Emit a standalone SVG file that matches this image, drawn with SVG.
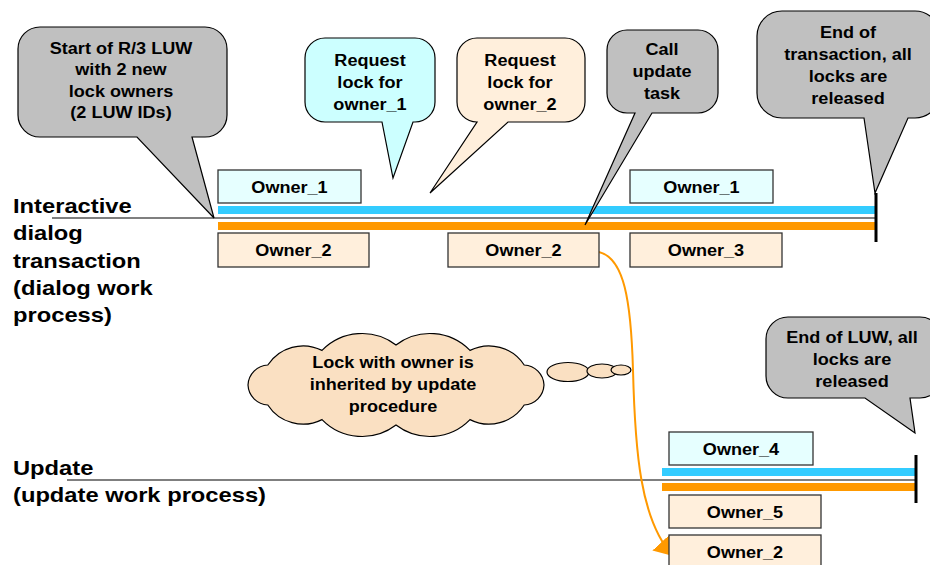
<svg xmlns="http://www.w3.org/2000/svg" width="930" height="565" viewBox="0 0 930 565">
<defs>
<style>
text{font-family:"Liberation Sans",Arial,sans-serif;font-weight:bold;fill:#000}
.c{font-size:16px;text-anchor:middle}
.lbl{font-size:21px;text-anchor:start}
.gray{fill:#c0c0c0;stroke:#000;stroke-width:1.2}
.cyanc{fill:#ccffff;stroke:#000;stroke-width:1.2}
.peachc{fill:#ffefdc;stroke:#000;stroke-width:1.2}
.o1{fill:#e6ffff;stroke:#333;stroke-width:1.3}
.o2{fill:#ffefdc;stroke:#333;stroke-width:1.3}
.cloud{fill:#fae0c2;stroke:#000;stroke-width:1.2}
.tl{stroke:#000;stroke-width:1.2;fill:none}
.end{stroke:#000;stroke-width:3;fill:none}
</style>
<marker id="arr" markerUnits="userSpaceOnUse" markerWidth="20" markerHeight="24" refX="18" refY="11.5" orient="auto">
<path d="M0,0 L18,11.5 L0,23 Z" fill="#ff9900"/>
</marker>
</defs>
<rect width="930" height="565" fill="#fff"/>

<g id="labels">
<text class="lbl" transform="matrix(1.13 0 0 1 13 213)"><tspan x="0" y="0">Interactive</tspan><tspan x="0" y="27">dialog</tspan><tspan x="0" y="55">transaction</tspan><tspan x="0" y="82">(dialog work</tspan><tspan x="0" y="109">process)</tspan></text>
<text class="lbl" transform="matrix(1.13 0 0 1 13 475)"><tspan x="0" y="0">Update</tspan><tspan x="0" y="27">(update work process)</tspan></text>
</g>

<g id="timelines">
<line class="tl" x1="52" y1="218" x2="876" y2="218"/>
<rect x="218" y="206" width="658" height="8" fill="#33ccff"/>
<rect x="218" y="222" width="658" height="8" fill="#ff9900"/>
<line class="end" x1="876" y1="193" x2="876" y2="242"/>
<line class="tl" x1="67" y1="480" x2="916" y2="480"/>
<rect x="662" y="468" width="254" height="8" fill="#33ccff"/>
<rect x="662" y="483" width="254" height="8" fill="#ff9900"/>
<line class="end" x1="916" y1="455" x2="916" y2="503"/>
</g>

<g id="connectors">
<path d="M599,252 C624,258 631,300 633,370 C635,450 640,520 673,556" fill="none" stroke="#ff9900" stroke-width="2" marker-end="url(#arr)"/>
</g>

<g id="callout-start">
<path class="gray" d="M40,27 H205 A22,22 0 0 1 227,49 V115 A22,22 0 0 1 205,137 H192 L214,218 L137,137 H40 A22,22 0 0 1 18,115 V49 A22,22 0 0 1 40,27 Z"/>
<text class="c" transform="matrix(1.13 0 0 1 121 54)"><tspan x="0" y="0">Start of R/3 LUW</tspan><tspan x="0" y="21.3">with 2 new</tspan><tspan x="0" y="42.6">lock owners</tspan><tspan x="0" y="64">(2 LUW IDs)</tspan></text>
</g>

<g id="callout-req1">
<path class="cyanc" d="M325,38 H415 A20,20 0 0 1 435,58 V102 A20,20 0 0 1 415,122 H413 L393,178 L382,122 H325 A20,20 0 0 1 305,102 V58 A20,20 0 0 1 325,38 Z"/>
<text class="c" transform="matrix(1.13 0 0 1 370 66)"><tspan x="0" y="0">Request</tspan><tspan x="0" y="22">lock for</tspan><tspan x="0" y="44">owner_1</tspan></text>
</g>

<g id="callout-req2">
<path class="peachc" d="M477,38 H565 A20,20 0 0 1 585,58 V102 A20,20 0 0 1 565,122 H508 L430,193 L477,122 A20,20 0 0 1 457,102 V58 A20,20 0 0 1 477,38 Z"/>
<text class="c" transform="matrix(1.13 0 0 1 520 66)"><tspan x="0" y="0">Request</tspan><tspan x="0" y="22">lock for</tspan><tspan x="0" y="44">owner_2</tspan></text>
</g>

<g id="callout-update">
<path class="gray" d="M627,30 H698 A20,20 0 0 1 718,50 V93 A20,20 0 0 1 698,113 H652 L585,225 L635,113 H627 A20,20 0 0 1 607,93 V50 A20,20 0 0 1 627,30 Z"/>
<text class="c" transform="matrix(1.13 0 0 1 662 55)"><tspan x="0" y="0">Call</tspan><tspan x="0" y="22">update</tspan><tspan x="0" y="44">task</tspan></text>
</g>

<g id="callout-endtx">
<path class="gray" d="M782,11 H915 A25,25 0 0 1 940,36 V93 A25,25 0 0 1 915,118 H908 L875,193 L864,118 H782 A25,25 0 0 1 757,93 V36 A25,25 0 0 1 782,11 Z"/>
<text class="c" transform="matrix(1.13 0 0 1 848 38)"><tspan x="0" y="0">End of</tspan><tspan x="0" y="22">transaction, all</tspan><tspan x="0" y="44">locks are</tspan><tspan x="0" y="66">released</tspan></text>
</g>

<g id="owner1-a">
<rect class="o1" x="218" y="170" width="143" height="33"/>
<text class="c" transform="matrix(1.13 0 0 1 289.5 193)">Owner_1</text>
</g>
<g id="owner2-a">
<rect class="o2" x="218" y="233" width="151" height="34"/>
<text class="c" transform="matrix(1.13 0 0 1 293.5 256)">Owner_2</text>
</g>
<g id="owner2-b">
<rect class="o2" x="448" y="233" width="151" height="34"/>
<text class="c" transform="matrix(1.13 0 0 1 523.5 256)">Owner_2</text>
</g>
<g id="owner1-b">
<rect class="o1" x="630" y="170" width="143" height="33"/>
<text class="c" transform="matrix(1.13 0 0 1 701.5 193)">Owner_1</text>
</g>
<g id="owner3">
<rect class="o2" x="630" y="233" width="152" height="34"/>
<text class="c" transform="matrix(1.13 0 0 1 706 256)">Owner_3</text>
</g>

<g id="cloud">
<path class="cloud" d="M544,385 A21,21 0 0 1 524.2,405 A42,42 0 0 1 470,419.6 A56,56 0 0 1 396,425 A56,56 0 0 1 322,419.6 A42,42 0 0 1 267.8,405 A21,21 0 0 1 248,385 A21,21 0 0 1 267.8,365 A42,42 0 0 1 322,350.4 A56,56 0 0 1 396,345 A56,56 0 0 1 470,350.4 A42,42 0 0 1 524.2,365 A21,21 0 0 1 544,385 Z"/>
<ellipse class="cloud" cx="568" cy="372" rx="21" ry="9.5"/>
<ellipse class="cloud" cx="602" cy="371" rx="15" ry="7"/>
<ellipse class="cloud" cx="621" cy="370" rx="10" ry="5"/>
<text class="c" transform="matrix(1.13 0 0 1 393 368)"><tspan x="0" y="0">Lock with owner is</tspan><tspan x="0" y="22">inherited by update</tspan><tspan x="0" y="44">procedure</tspan></text>
</g>

<g id="callout-endluw">
<path class="gray" d="M788,317 H920 A22,22 0 0 1 942,339 V376 A22,22 0 0 1 920,398 H910 L915,433 L865,398 H788 A22,22 0 0 1 766,376 V339 A22,22 0 0 1 788,317 Z"/>
<text class="c" transform="matrix(1.13 0 0 1 852 343)"><tspan x="0" y="0">End of LUW, all</tspan><tspan x="0" y="22">locks are</tspan><tspan x="0" y="44">released</tspan></text>
</g>

<g id="owner4">
<rect class="o1" x="669" y="432" width="144" height="33"/>
<text class="c" transform="matrix(1.13 0 0 1 741 455)">Owner_4</text>
</g>
<g id="owner5">
<rect class="o2" x="669" y="495" width="152" height="33"/>
<text class="c" transform="matrix(1.13 0 0 1 745 518)">Owner_5</text>
</g>
<g id="owner2-c">
<rect class="o2" x="669" y="535" width="152" height="40"/>
<text class="c" transform="matrix(1.13 0 0 1 745 558)">Owner_2</text>
</g>
</svg>
